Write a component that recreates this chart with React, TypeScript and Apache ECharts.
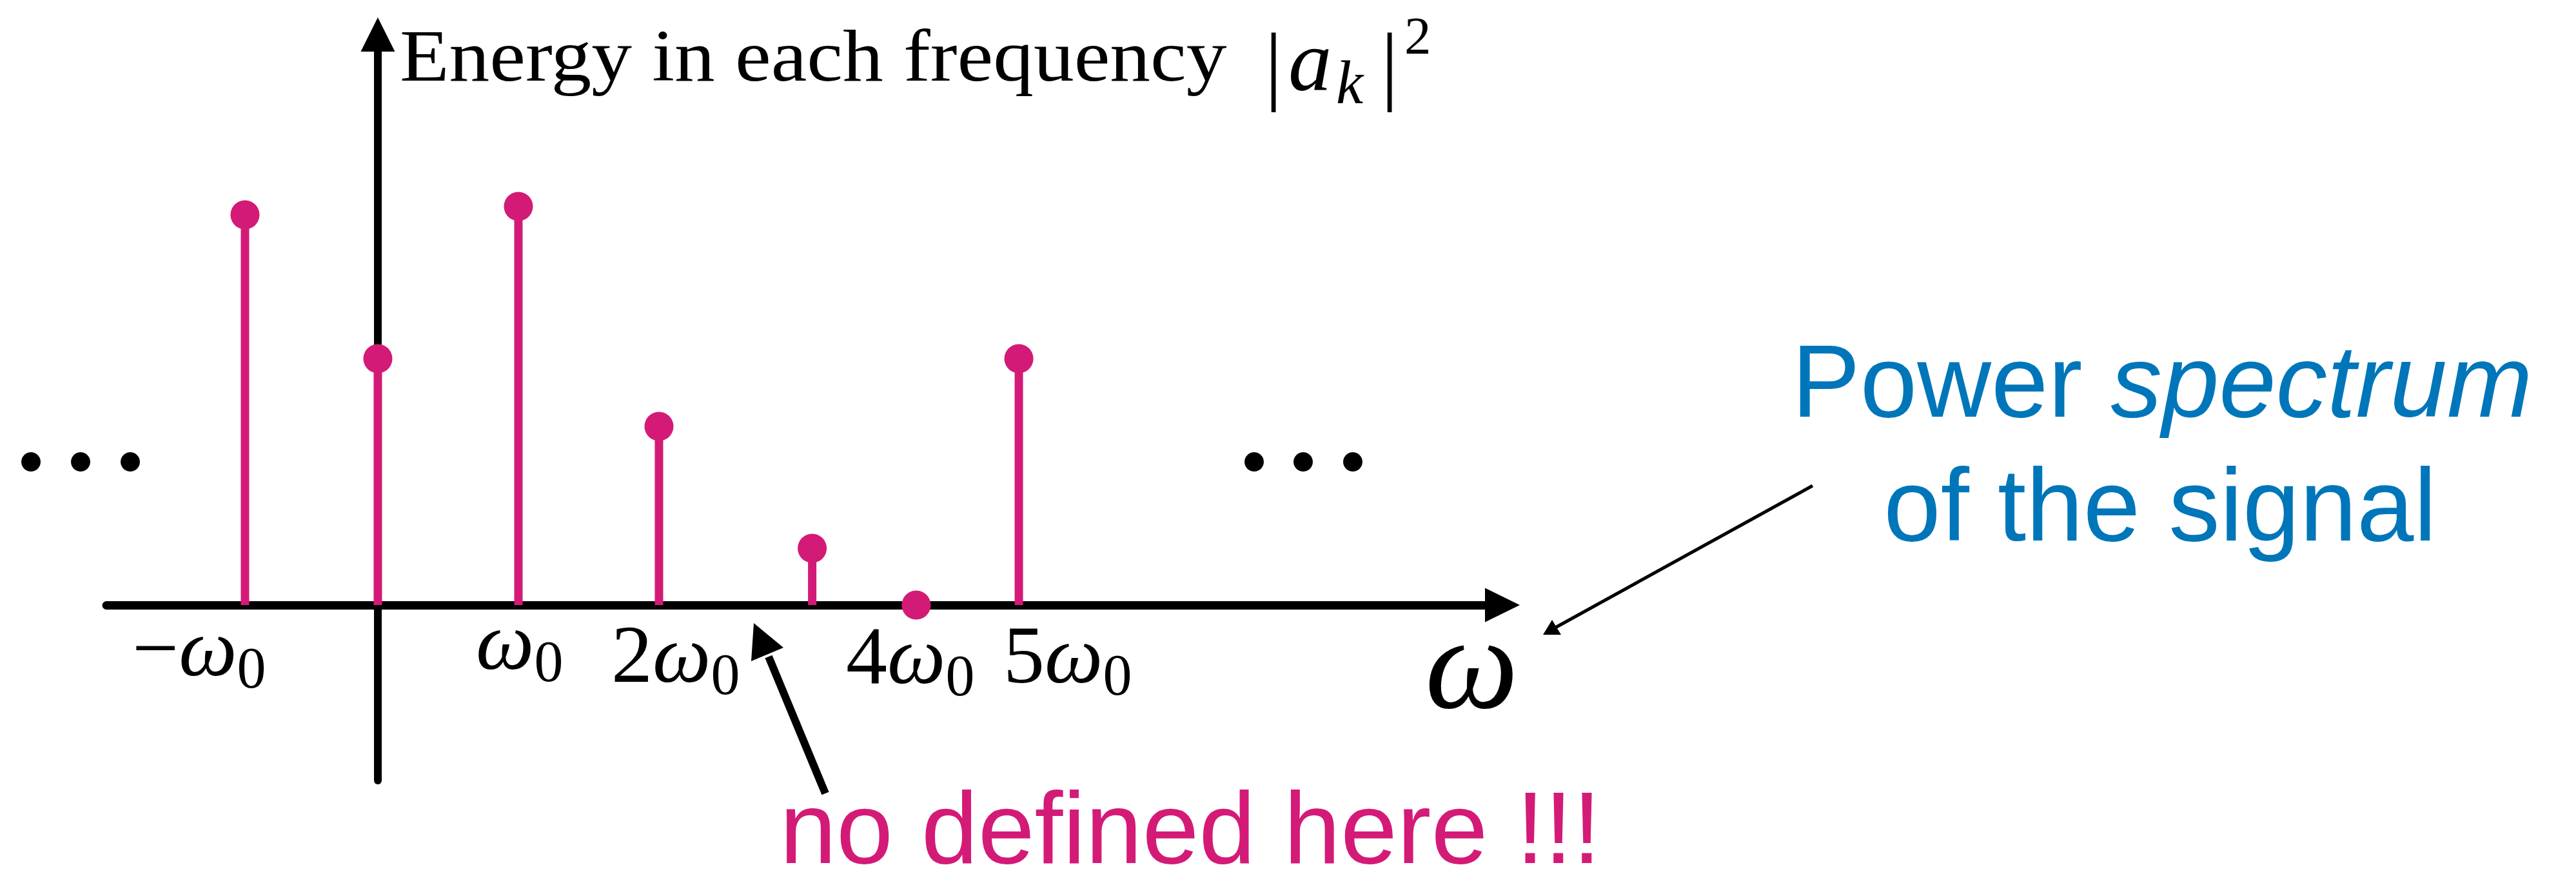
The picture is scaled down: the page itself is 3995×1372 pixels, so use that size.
import React, { useEffect, useRef } from "react";
import * as echarts from "echarts";

// ---- data ----
// stem positions along the ω axis, in units of ω0, as drawn in the figure
const stemFreq = [-0.945, 0, 1.0, 2.0, 3.09, 3.83, 4.56];
// energy |a_k|^2 of each stem (arbitrary units)
const energy = [6.05, 3.82, 6.18, 2.77, 0.88, 0, 3.82];
// axis ranges
const xRange = [-1.931, 8];
const yRange = [-2.72, 8.845];
// tick label texts: prefix, symbol, subscript
const tickPre = ["−", "", "2", "4", "5"];
const tickSym = ["ω", "ω", "ω", "ω", "ω"];
const tickSub = ["0", "0", "0", "0", "0"];
const titleText = "Energy in each frequency";
const annotationBlue1 = ["Power ", "spectrum"];
const annotationBlue2 = "of the signal";
const annotationPink = "no defined here !!!";
const axisName = "ω";

const MAGENTA = "#D41A77";
const BLUE = "#0076BA";
const SERIF = '"Liberation Serif", "Times New Roman", serif';
const SANS = '"Liberation Sans", Arial, sans-serif';

function txt(
  text: string,
  x: number,
  baseline: number,
  size: number,
  opts: any = {}
) {
  const family = opts.family || SERIF;
  const k = family === SANS ? 0.3465 : 0.3375;
  return {
    type: "text",
    x,
    y: baseline - k * size,
    scaleX: opts.scaleX || 1,
    z: 10,
    style: {
      text,
      fill: opts.fill || "#000",
      fontSize: size,
      fontFamily: family,
      fontStyle: opts.italic ? "italic" : "normal",
      align: opts.align || "left",
      verticalAlign: "middle",
      lineHeight: opts.lineHeight,
    },
  };
}

export default function App() {
  const ref = useRef<HTMLDivElement>(null);
  useEffect(() => {
    if (!ref.current) return;
    const chart = echarts.init(ref.current, undefined, { renderer: "svg" });

    // tick label layout: [left x, baseline]
    const tickLayout = [
      [205, 1047],
      [738, 1037],
      [948, 1057],
      [1312, 1059],
      [1556, 1058],
    ];
    const MAIN = 128;
    const SUB = 90;
    const tickGraphics: any[] = tickPre.map((pre, i) => {
      const [lx, base] = tickLayout[i];
      const text =
        (pre ? `{p|${pre}}` : "") + `{w|${tickSym[i]}}` + `{s|${tickSub[i]}}`;
      return {
        type: "text",
        x: lx,
        y: base - 0.3375 * MAIN,
        z: 10,
        style: {
          text,
          align: "left",
          verticalAlign: "middle",
          rich: {
            p: { fontSize: MAIN, fontFamily: SERIF, fill: "#000", lineHeight: MAIN },
            w: { fontSize: MAIN, fontFamily: SERIF, fontStyle: "italic", fill: "#000", lineHeight: MAIN },
            s: { fontSize: SUB, fontFamily: SERIF, fill: "#000", lineHeight: 10, padding: [64, 0, 0, 0] },
          },
        },
      };
    });

    const dots: any[] = [48, 125, 202, 1945, 2021, 2098].map((cx) => ({
      type: "circle",
      shape: { cx, cy: 716, r: 15 },
      style: { fill: "#000" },
      z: 10,
    }));

    const pts = stemFreq.map((x, i) => [x, energy[i]]);

    chart.setOption({
      animation: false,
      backgroundColor: "#fff",
      grid: {
        left: 165,
        right: 3995 - 2330,
        top: 53.5,
        bottom: 1372 - 1210,
        containLabel: false,
        outerBoundsMode: "none",
      },
      xAxis: {
        type: "value",
        min: xRange[0],
        max: xRange[1],
        axisLine: {
          show: true,
          onZero: true,
          symbol: ["none", "triangle"],
          symbolSize: [53, 54],
          lineStyle: { color: "#000", width: 13 },
        },
        axisTick: { show: false },
        axisLabel: { show: false },
        splitLine: { show: false },
      },
      yAxis: {
        type: "value",
        min: yRange[0],
        max: yRange[1],
        axisLine: {
          show: true,
          onZero: true,
          symbol: ["none", "triangle"],
          symbolSize: [53, 53],
          lineStyle: { color: "#000", width: 12 },
        },
        axisTick: { show: false },
        axisLabel: { show: false },
        splitLine: { show: false },
      },
      series: [
        {
          type: "bar",
          data: pts,
          barWidth: 13,
          itemStyle: { color: MAGENTA },
          z: 3,
        },
        {
          type: "scatter",
          data: pts,
          symbolSize: 45,
          itemStyle: { color: MAGENTA, opacity: 1 },
          z: 4,
        },
      ],
      graphic: [
        // title
        txt(titleText, 620, 125, 114, { scaleX: 1.1 }),
        txt("|", 1975, 145, 136, { align: "center" }),
        txt("a", 1998, 140, 135, { italic: true }),
        txt("k", 2072, 160, 95, { italic: true }),
        txt("|", 2155, 145, 136, { align: "center" }),
        txt("2", 2178, 83, 83),
        ...tickGraphics,
        // omega axis name
        txt(axisName, 2210, 1097, 205, { italic: true }),
        ...dots,
        // blue annotation
        {
          type: "text",
          x: 3353,
          y: 646 - 0.3465 * 159,
          z: 10,
          style: {
            text: `{r|${annotationBlue1[0]}}{i|${annotationBlue1[1]}}`,
            align: "center",
            verticalAlign: "middle",
            rich: {
              r: { fontSize: 159, fontFamily: SANS, fill: BLUE },
              i: { fontSize: 159, fontFamily: SANS, fill: BLUE, fontStyle: "italic" },
            },
          },
        },
        txt(annotationBlue2, 3350, 838, 159, { family: SANS, fill: BLUE, align: "center" }),
        txt(annotationPink, 1846, 1338, 158, {
          family: SANS,
          fill: MAGENTA,
          align: "center",
        }),
        // thin arrow to ω
        {
          type: "line",
          shape: { x1: 2811, y1: 753, x2: 2412, y2: 973 },
          style: { stroke: "#000", lineWidth: 5 },
          z: 10,
        },
        {
          type: "polygon",
          shape: { points: [[2393, 984], [2407, 961], [2421, 984]] },
          style: { fill: "#000" },
          z: 10,
        },
        // thick arrow "no defined here"
        {
          type: "line",
          shape: { x1: 1280, y1: 1230, x2: 1192, y2: 1018 },
          style: { stroke: "#000", lineWidth: 12 },
          z: 10,
        },
        {
          type: "polygon",
          shape: { points: [[1169, 966], [1165, 1025], [1215, 1004]] },
          style: { fill: "#000" },
          z: 10,
        },
      ],
    });
    return () => chart.dispose();
  }, []);
  return (
    <div
      ref={ref}
      style={{ position: "fixed", left: 0, top: 0, width: "3995px", height: "1372px" }}
    />
  );
}
